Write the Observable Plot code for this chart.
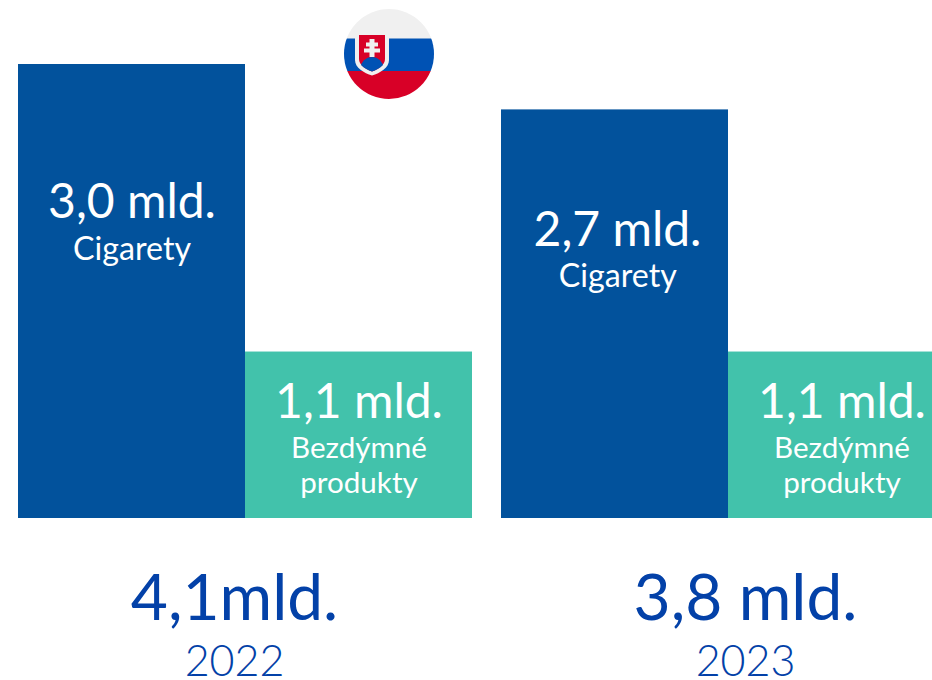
<!DOCTYPE html>
<html lang="sk">
<head>
<meta charset="utf-8">
<style>
html,body{margin:0;padding:0;background:#fff;overflow:hidden}
svg{display:block}
</style>
<script src="https://cdn.jsdelivr.net/npm/d3@7"></script>
<script src="https://cdn.jsdelivr.net/npm/@observablehq/plot@0.6"></script>
</head>
<body>
<div id="chart"></div>
<script>
const years = ["2022", "2023"];
const categories = ["Cigarety", "Bezdýmné\nprodukty"];
const cigarettes = [3.0, 2.7];
const smokeFree = [1.1, 1.1];
const totalLabels = ["4,1mld.", "3,8 mld."];

const BLUE = "#02529c", TEAL = "#42c2ab", INK = "#0341a8";
const fmt = v => v.toFixed(1).replace(".", ",") + " mld.";
const rows = years.flatMap((year, i) => [
  {year, category: categories[0], value: cigarettes[i]},
  {year, category: categories[1], value: smokeFree[i]}
]);
const totals = years.map((year, i) => ({year, label: totalLabels[i]}));

const valueText = (d, dy, dx, size) => Plot.text([d], {
  fx: "year", x: "category", y: "value", text: r => fmt(r.value),
  dy, dx, fill: "#fff", fontSize: size, fontWeight: 400
});
const nameText = (d, dy, dx, size, lineHeight) => Plot.text([d], {
  fx: "year", x: "category", y: "value", text: "category",
  dy, dx, fill: "#fff", fontSize: size, fontWeight: 400, lineHeight
});

const [c22, s22, c23, s23] = rows;

const svg = Plot.plot({
  width: 932,
  height: 680,
  marginTop: 64,
  marginBottom: 162,
  marginLeft: 0,
  marginRight: 0,
  style: {fontFamily: "Lato, sans-serif", background: "#fff"},
  fx: {domain: years, range: [18, 955], paddingInner: 29 / 483, paddingOuter: 0, axis: null},
  x: {domain: categories, range: [0, 454], padding: 0, axis: null},
  y: {domain: [0, 3], axis: null},
  color: {domain: categories, range: [BLUE, TEAL]},
  marks: [
    Plot.barY(rows, {fx: "year", x: "category", y: "value", fill: "category"}),
    valueText(c22, 138, 0, 48),
    nameText(c22, 185, 0, 32.2),
    valueText(c23, 121, 2.5, 48),
    nameText(c23, 167, 2.8, 32.2),
    valueText(s22, 51, 0, 48),
    nameText(s22, 112, 0, 29.6, 1.18),
    valueText(s23, 51, 0, 48),
    nameText(s23, 112, 0, 29.6, 1.18),
    Plot.text([totals[0]], {fx: "year", frameAnchor: "bottom", text: "label", dy: 101, dx: -11, fill: INK, fontSize: 64, fontWeight: 400}),
    Plot.text([totals[1]], {fx: "year", frameAnchor: "bottom", text: "label", dy: 101, dx: 17, fill: INK, fontSize: 64, fontWeight: 400}),
    Plot.text([totals[0]], {fx: "year", frameAnchor: "bottom", text: "year", dy: 157, dx: -11, fill: INK, fontSize: 43, fontWeight: 300}),
    Plot.text([totals[1]], {fx: "year", frameAnchor: "bottom", text: "year", dy: 157, dx: 17, fill: INK, fontSize: 43, fontWeight: 300})
  ]
});

// Flag badge of Slovakia
const root = d3.select(svg);
root.append("defs").append("clipPath").attr("id", "flagclip")
  .append("circle").attr("cx", 389).attr("cy", 54).attr("r", 45);
const flag = root.append("g").attr("clip-path", "url(#flagclip)");
flag.append("rect").attr("x", 344).attr("y", 9).attr("width", 90).attr("height", 30).attr("fill", "#f0f0f0");
flag.append("rect").attr("x", 344).attr("y", 38.5).attr("width", 90).attr("height", 32.5).attr("fill", "#0052b4");
flag.append("rect").attr("x", 344).attr("y", 71).attr("width", 90).attr("height", 28).attr("fill", "#d80027");
flag.append("path").attr("d", "M355 33H389V60C389 68 380 73 372 75.5C364 73 355 68 355 60Z").attr("fill", "#f0f0f0");
flag.append("path").attr("d", "M359 35H385V59C385 65 378 69.5 372 71.5C366 69.5 359 65 359 59Z").attr("fill", "#d80027");
flag.append("path").attr("d", "M361 65C363 60 367 57 372 57C377 57 381 60 383 65C380 68 375.5 70.5 372 71.5C368.5 70.5 364 68 361 65Z").attr("fill", "#0052b4");
flag.append("path").attr("d", "M369.5 39H374.5V42.5H378V46.5H374.5V48.5H380V52.5H374.5V57H369.5V52.5H364V48.5H369.5V46.5H366V42.5H369.5Z").attr("fill", "#f0f0f0");

document.getElementById("chart").append(svg);
</script>
</body>
</html>
